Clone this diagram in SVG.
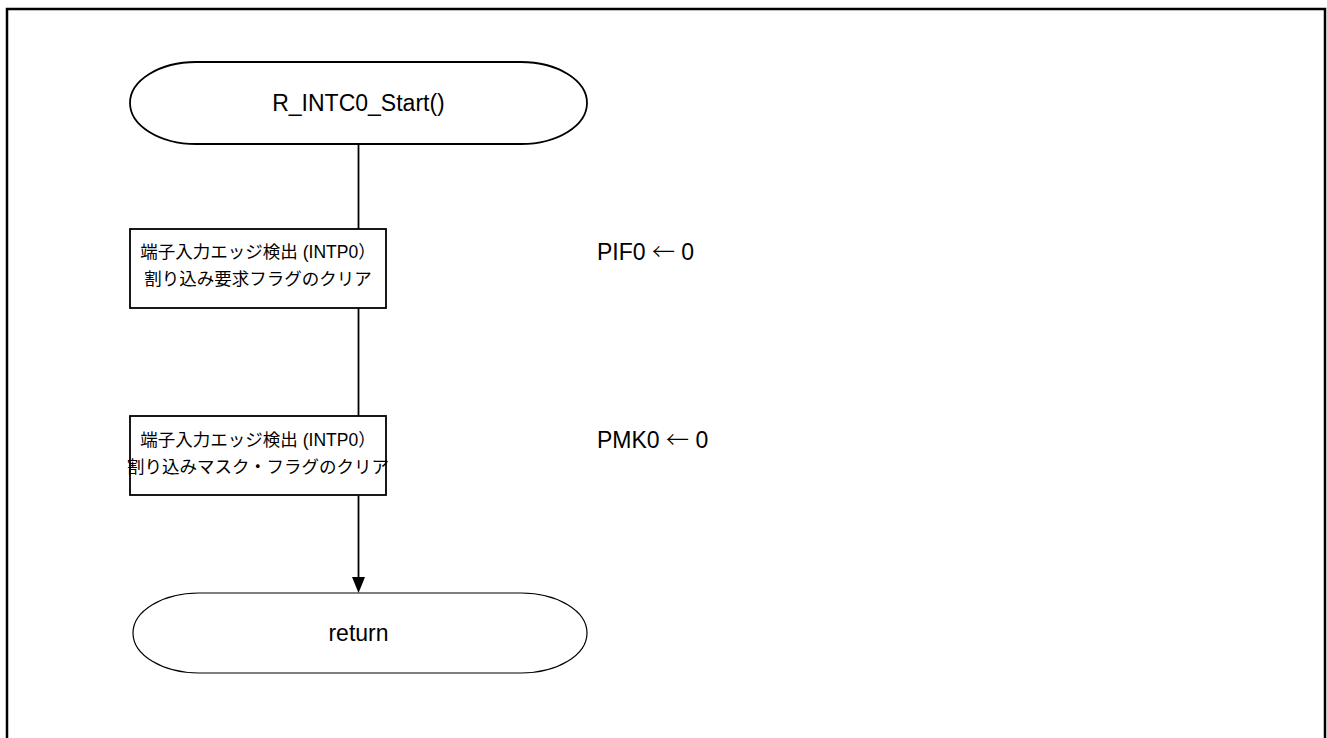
<svg xmlns="http://www.w3.org/2000/svg" width="1327" height="738" viewBox="0 0 1327 738">
<style>
.frame{fill:none;stroke:#000;stroke-width:2.5}
.shape{fill:#fff;stroke:#000;stroke-width:1.8}
.term{fill:#fff;stroke:#000;stroke-width:1.2}
.line{fill:none;stroke:#000;stroke-width:1.8}
.t{font-family:"Liberation Sans","Noto Sans CJK JP",sans-serif;font-size:23px;fill:#000}
.b{font-size:17.5px}
.j{font-family:"Noto Sans CJK JP",sans-serif;font-weight:300}
.c{text-anchor:middle}
</style>
<rect class="frame" x="7" y="9" width="1318" height="740"/>
<g id="connectors">
<line class="line" x1="358.5" y1="144" x2="358.5" y2="229"/>
<line class="line" x1="358.5" y1="308" x2="358.5" y2="416"/>
<line class="line" x1="358.5" y1="496" x2="358.5" y2="578"/>
<path d="M352,577 L365,577 L358.5,593 Z" fill="#000"/>
</g>
<g id="start">
<rect class="shape" x="130" y="62" width="457" height="82" rx="66" ry="41"/>
<text class="t c" x="358.5" y="111">R_INTC0_Start()</text>
</g>
<g id="step1">
<rect class="shape" x="130" y="229" width="256" height="79"/>
<text class="t b c" x="258" y="258">端子入力エッジ検出 (INTP0）</text>
<text class="t b c" x="258" y="285">割り込み要求フラグのクリア</text>
</g>
<g id="note1">
<text class="t" x="597" y="260">PIF0 <tspan class="j">←</tspan> 0</text>
</g>
<g id="step2">
<rect class="shape" x="130" y="416" width="256" height="79"/>
<text class="t b c" x="258" y="446">端子入力エッジ検出 (INTP0）</text>
<text class="t b c" x="258" y="473">割り込みマスク・フラグのクリア</text>
</g>
<g id="note2">
<text class="t" x="597" y="448">PMK0 <tspan class="j">←</tspan> 0</text>
</g>
<g id="end">
<rect class="term" x="133" y="593" width="454" height="80" rx="66" ry="40"/>
<text class="t c" x="358.5" y="641">return</text>
</g>
</svg>
